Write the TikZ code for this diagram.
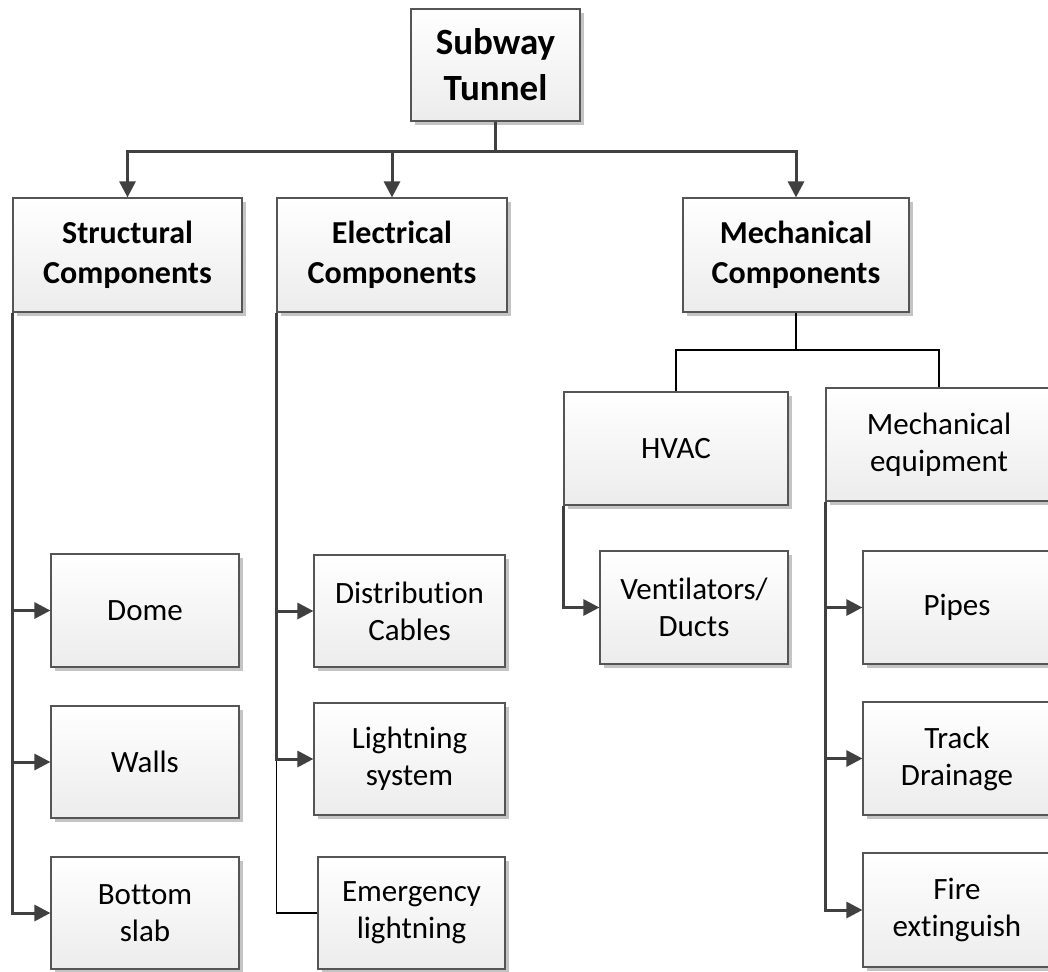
\documentclass[tikz,border=0pt]{standalone}
\usepackage{fontspec}
\setmainfont{Carlito}[Ligatures=NoCommon]
\usetikzlibrary{arrows.meta,shadows}
\definecolor{boxline}{HTML}{555555}
\definecolor{boxbottom}{HTML}{ECECEC}
\definecolor{shadowgray}{HTML}{C4C4C4}
\definecolor{connector}{HTML}{404040}
\begin{document}
\begin{tikzpicture}[x=1pt,y=-1pt,
  box/.style={rectangle, draw=boxline, line width=1.2pt, top color=white, bottom color=boxbottom,
    drop shadow={shadow xshift=4pt, shadow yshift=-4pt, fill=shadowgray, opacity=1},
    inner sep=0pt, align=center, text=black},
  title/.style={box, font=\fontsize{37}{46}\selectfont\bfseries},
  head/.style={box, font=\fontsize{32}{40}\selectfont\bfseries},
  leaf/.style={box, font=\fontsize{31}{37}\selectfont},
  conn/.style={draw=connector, line width=3pt, -{Triangle[length=16pt,width=16pt]}},
  thinline/.style={draw=black, line width=1.3pt}
]
\clip (0,0) rectangle (1048,971);
\fill[white] (0,0) rectangle (1048,971);

% top level
\node[title, minimum width=169pt, minimum height=112pt] (top) at (495.5,65) {Subway\\Tunnel};

% component groups
\node[head, minimum width=229pt, minimum height=114pt] (struct) at (127.5,255) {Structural\\Components};
\node[head, minimum width=230pt, minimum height=114pt] (elec) at (392,255) {Electrical\\Components};
\node[head, minimum width=226pt, minimum height=114pt] (mech) at (796,255) {Mechanical\\Components};

% mechanical sub-groups
\node[leaf, minimum width=224pt, minimum height=113pt] (hvac) at (676,448.5) {HVAC};
\node[leaf, minimum width=226pt, minimum height=113pt] (meq) at (939,444.5) {Mechanical\\equipment};

% structural items
\node[leaf, minimum width=188pt, minimum height=113pt] (dome) at (145,610.5) {Dome};
\node[leaf, minimum width=188pt, minimum height=112pt] (walls) at (145,762) {Walls};
\node[leaf, minimum width=188pt, minimum height=112pt] (slab) at (145,913) {Bottom\\slab};

% electrical items
\node[leaf, minimum width=191pt, minimum height=112pt] (dist) at (409.5,611) {Distribution\\Cables};
\node[leaf, minimum width=191pt, minimum height=112pt] (light) at (409.5,759) {Lightning\\system};
\node[leaf, minimum width=187pt, minimum height=112pt] (emerg) at (411.5,913) {Emergency\\lightning};

% mechanical items
\node[leaf, minimum width=188pt, minimum height=113pt] (vent) at (694,607.5) {Ventilators/\\Ducts};
\node[leaf, minimum width=188pt, minimum height=113pt] (pipes) at (957,607.5) {Pipes};
\node[leaf, minimum width=188pt, minimum height=113pt] (track) at (957,758.5) {Track\\Drainage};
\node[leaf, minimum width=188pt, minimum height=114pt] (fire) at (957,910) {Fire\\extinguish};

% bus lines
\coordinate (bus) at (495.5,151);
\coordinate (mbus) at (796,350);

\draw[conn] (top.south) -- (bus) -| (struct.north);
\draw[conn] (top.south) -- (bus) -| (elec.north);
\draw[conn] (top.south) -- (bus) -| (mech.north);

\draw[conn] (struct.south west) |- (dome.west);
\draw[conn] (struct.south west) |- (walls.west);
\draw[conn] (struct.south west) |- (slab.west);

\draw[thinline] (elec.south west) |- (emerg.west);
\draw[conn] (elec.south west) |- (dist.west);
\draw[conn] (elec.south west) |- (light.west);

\draw[thinline] (mech.south) -- (mbus) -| (hvac.north);
\draw[thinline] (mech.south) -- (mbus) -| (meq.north);

\draw[conn] (hvac.south west) |- (vent.west);
\draw[conn] (meq.south west) |- (pipes.west);
\draw[conn] (meq.south west) |- (track.west);
\draw[conn] (meq.south west) |- (fire.west);
\end{tikzpicture}
\end{document}
